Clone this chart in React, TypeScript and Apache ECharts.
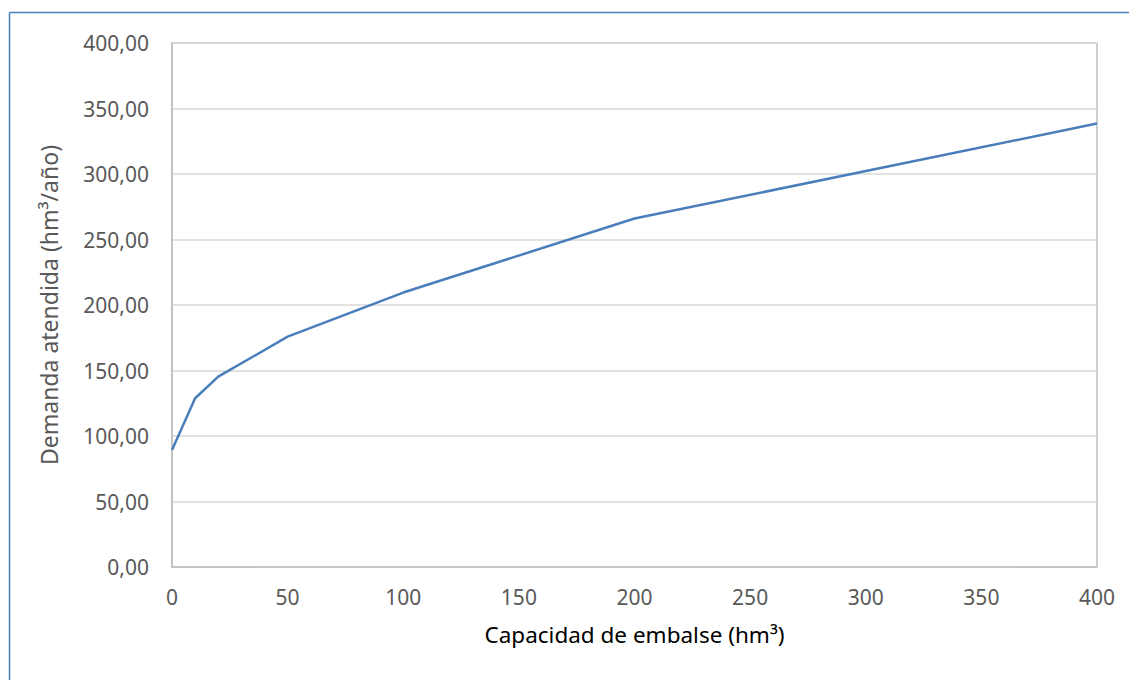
import React, { useEffect, useRef } from "react";
import * as echarts from "echarts";

const capacidad = [0, 10, 20, 50, 100, 200, 400];
const demanda = [89.3, 128.8, 145.3, 175.8, 209.5, 266, 338.5];
const xTitle = "Capacidad de embalse (hm³)";
const yTitle = "Demanda atendida (hm³/año)";

export default function App() {
  const ref = useRef<HTMLDivElement>(null);
  useEffect(() => {
    document.body.style.margin = "0";
    const chart = echarts.init(ref.current!, null, { renderer: "svg" });
    const font = "Noto Sans";
    chart.setOption({
      animation: false,
      backgroundColor: "#ffffff",
      grid: {
        left: 172,
        right: 32,
        top: 43,
        bottom: 113,
        show: true,
        borderColor: "#bfbfbf",
        borderWidth: 1.5,
      },
      xAxis: {
        type: "value",
        min: 0,
        max: 400,
        interval: 50,
        name: xTitle,
        nameLocation: "middle",
        nameGap: 56,
        nameTextStyle: { fontFamily: font, fontSize: 22.5, color: "#000000" },
        axisLine: { show: true, lineStyle: { color: "#bfbfbf", width: 1.5 } },
        axisTick: { show: false },
        axisLabel: { fontFamily: font, fontSize: 21, color: "#595959", margin: 19 },
        splitLine: { show: false },
      },
      yAxis: {
        type: "value",
        min: 0,
        max: 400,
        interval: 50,
        name: yTitle,
        nameLocation: "middle",
        nameGap: 112,
        nameTextStyle: { fontFamily: font, fontSize: 23, color: "#595959" },
        axisLine: { show: true, lineStyle: { color: "#bfbfbf", width: 1.5 } },
        axisTick: { show: false },
        axisLabel: {
          fontFamily: font,
          fontSize: 21,
          color: "#595959",
          margin: 23,
          formatter: (v: number) => v.toFixed(2).replace(".", ","),
        },
        splitLine: { show: true, lineStyle: { color: "#d9d9d9", width: 1.5 } },
      },
      series: [
        {
          type: "line",
          data: capacidad.map((c, i) => [c, demanda[i]]),
          showSymbol: false,
          lineStyle: { color: "#4a7ebb", width: 2.5 },
          itemStyle: { color: "#4a7ebb" },
        },
      ],
      graphic: [
        {
          type: "line",
          shape: { x1: 9.5, y1: 12.5, x2: 1129, y2: 12.5 },
          style: { stroke: "#4a7ebb", lineWidth: 1.5 },
        },
        {
          type: "line",
          shape: { x1: 9.5, y1: 12.5, x2: 9.5, y2: 680 },
          style: { stroke: "#4a7ebb", lineWidth: 1.5 },
        },
      ],
    });
    return () => chart.dispose();
  }, []);
  return (
    <div
      ref={ref}
      style={{ position: "fixed", left: 0, top: 0, width: 1129, height: 680 }}
    />
  );
}
